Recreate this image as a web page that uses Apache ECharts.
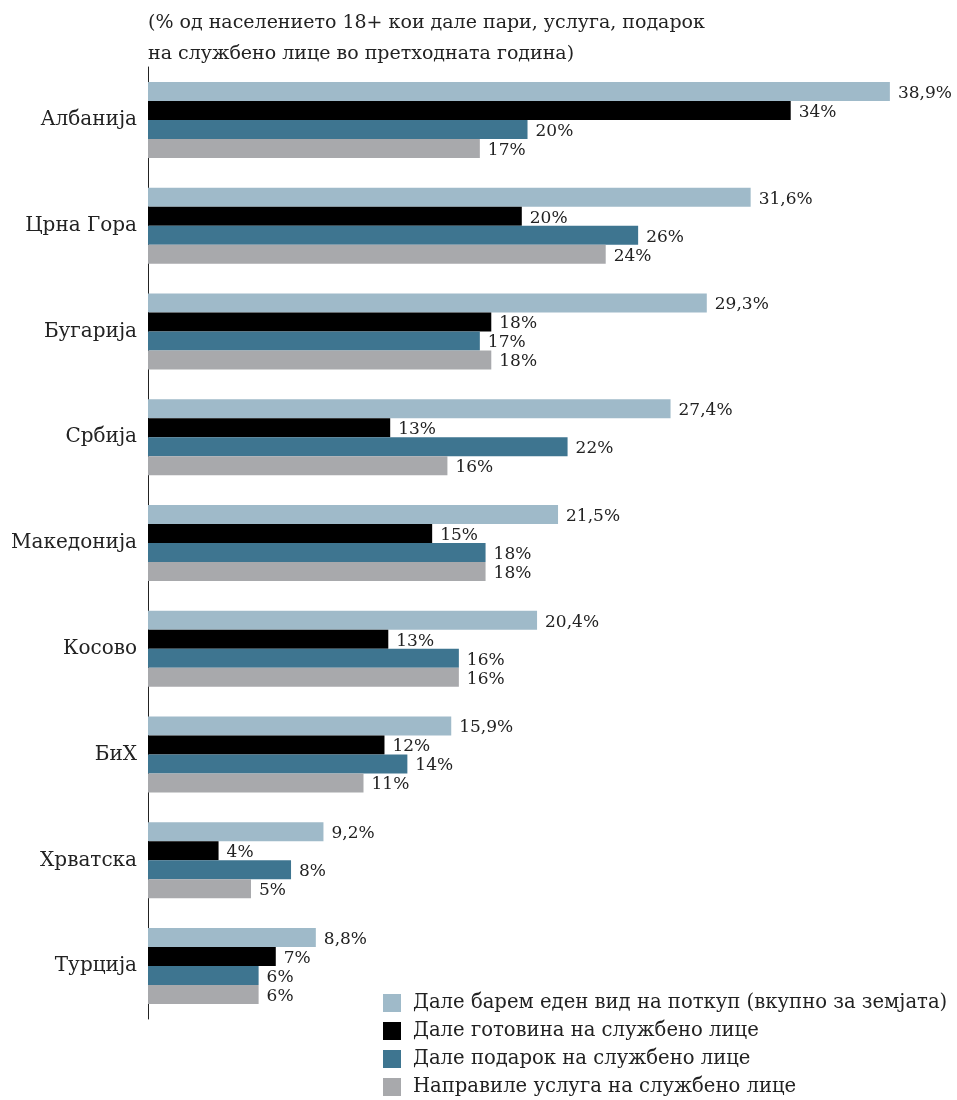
<!DOCTYPE html>
<html>
<head>
<meta charset="utf-8">
<script src="https://cdn.jsdelivr.net/npm/echarts@6/dist/echarts.min.js"></script>
<style>html,body{margin:0;padding:0;background:#fff}#c{width:957px;height:1100px}</style>
</head>
<body>
<div id="c"></div>
<script>
const categories = ['Албанија','Црна Гора','Бугарија','Србија','Македонија','Косово','БиХ','Хрватска','Турција'];
const seriesNames = [
  'Дале барем еден вид на поткуп (вкупно за земјата)',
  'Дале готовина на службено лице',
  'Дале подарок на службено лице',
  'Направиле услуга на службено лице'
];
const totalAny = [38.9, 31.6, 29.3, 27.4, 21.5, 20.4, 15.9, 9.2, 8.8];
const cash     = [33.7, 19.6, 18.0, 12.7, 14.9, 12.6, 12.4, 3.7, 6.7];
const gift     = [19.9, 25.7, 17.4, 22.0, 17.7, 16.3, 13.6, 7.5, 5.8];
const favour   = [17.4, 24.0, 18.0, 15.7, 17.7, 16.3, 11.3, 5.4, 5.8];
const titleLines = ['(% од населението 18+ кои дале пари, услуга, подарок','на службено лице во претходната година)'];

const FONT = 'DejaVu Serif';
const colors = ['#9fbac9','#000000','#3e7590','#a8a9ac'];
const chart = echarts.init(document.getElementById('c'), null, {renderer:'canvas'});
const lab = (fmt) => ({
  show: true, position: 'right', distance: 8, offset: [0, 2],
  fontFamily: FONT, fontSize: 17, color: '#222', formatter: fmt
});
const fmt1 = p => p.value.toFixed(1).replace('.', ',') + '%';
const fmt0 = p => Math.round(p.value) + '%';
const datas = [totalAny, cash, gift, favour];
chart.setOption({
  animation: false,
  textStyle: {fontFamily: FONT},
  title: {
    text: titleLines.join('\n'), left: 143, top: 3,
    textStyle: {fontFamily: FONT, fontSize: 19, fontWeight: 'normal', color: '#222', lineHeight: 31}
  },
  grid: {left: 148, right: 8, top: 67, height: 952},
  xAxis: {type: 'value', min: 0, max: 42, show: false},
  yAxis: {
    type: 'category', data: categories, inverse: true,
    axisLine: {show: true, lineStyle: {color: '#222', width: 1}},
    axisTick: {show: false},
    axisLabel: {fontFamily: FONT, fontSize: 20, color: '#222', margin: 11}
  },
  legend: {
    orient: 'vertical', left: 378, top: 988, height: 300, itemWidth: 18, itemHeight: 18, itemGap: 8,
    icon: 'rect', data: seriesNames,
    textStyle: {fontFamily: FONT, fontSize: 19.6, color: '#222', padding: [0,0,0,7]}
  },
  series: seriesNames.map((n, i) => ({
    name: n, type: 'bar', data: datas[i], barWidth: 19, barGap: '0%',
    itemStyle: {color: colors[i]},
    label: lab(i === 0 ? fmt1 : fmt0)
  }))
});
</script>
</body>
</html>
